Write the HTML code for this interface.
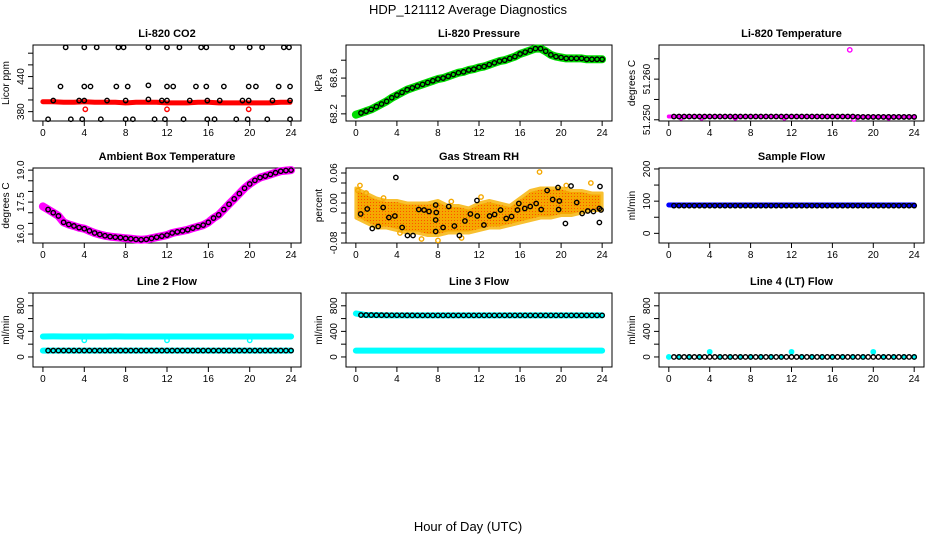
<!DOCTYPE html>
<html><head><meta charset="utf-8"><style>
html,body{margin:0;padding:0;background:#fff;width:936px;height:540px;overflow:hidden}
svg{display:block}
text{font-family:"Liberation Sans",Arial,sans-serif;fill:#000}
</style></head><body>
<svg id="c" width="936" height="540" viewBox="0 0 936 540" xmlns="http://www.w3.org/2000/svg">
<defs>
<pattern id="rhpat" width="3" height="3" patternUnits="userSpaceOnUse"><rect width="3" height="3" fill="#f5a800"/><rect x="1" y="1" width="1" height="1" fill="#ff5000"/></pattern>
</defs>
<text x="468" y="14" text-anchor="middle" font-size="13">HDP_121112  Average Diagnostics</text>
<text x="468" y="531" text-anchor="middle" font-size="13">Hour of Day (UTC)</text>
</svg>
<script>
// ---- data ----
const hours = [0,1,2,3,4,5,6,7,8,9,10,11,12,13,14,15,16,17,18,19,20,21,22,23,24];
const halfHours = [0,0.5,1,1.5,2,2.5,3,3.5,4,4.5,5,5.5,6,6.5,7,7.5,8,8.5,9,9.5,10,10.5,11,11.5,12,12.5,13,13.5,14,14.5,15,15.5,16,16.5,17,17.5,18,18.5,19,19.5,20,20.5,21,21.5,22,22.5,23,23.5,24];
const xTicks = [0,4,8,12,16,20,24];

const co2Band = [397,397,396,396,397,396,396,396,395,396,396,396,395,395,395,396,396,395,395,395,395,395,395,396,396];
const co2X = [2.2,4,5.2,7.3,7.8,10.2,12,13.2,15.3,15.8,18.3,20,21.2,23.3,23.8, 1.7,4,4.6,7.1,8.2,10.2,12,12.6,14.8,15.8,17.5,19.9,20.6,22.8,23.9, 1,3.5,4,6.2,8,10.2,11.5,12,14.2,15.9,17.1,19.3,19.9,22.2,23.9, 0.5,2.7,3.8,5.6,8,8.7,10.8,11.8,13.6,15.9,16.6,18.7,19.8,21.7,23.9];
const co2Y = [490,490,490,490,490,490,490,490,490,490,490,490,490,490,490, 423,423,423,423,423,425,423,423,423,423,423,423,423,423,423, 399,399,399,399,399,401,399,399,399,399,399,399,399,399,399, 367,367,367,367,367,367,367,367,367,367,367,367,367,367,367];
const co2RedX = [4.1,12,19.9];
const co2RedY = [384,384,384];

const pressure = [68.19,68.21,68.23,68.25,68.28,68.31,68.34,68.38,68.41,68.44,68.47,68.49,68.51,68.53,68.55,68.57,68.59,68.60,68.62,68.64,68.66,68.67,68.69,68.70,68.72,68.73,68.75,68.77,68.79,68.80,68.82,68.84,68.87,68.89,68.91,68.93,68.93,68.90,68.86,68.84,68.83,68.82,68.82,68.82,68.82,68.81,68.81,68.81,68.81];

const licorTemp = [51.2508,51.2508,51.2508,51.2508,51.2508,51.2508,51.2508,51.2508,51.2508,51.2508,51.2508,51.2508,51.2508,51.2508,51.2508,51.2508,51.2508,51.2508,51.2508,51.2508,51.2508,51.2508,51.2508,51.2508,51.2508,51.2508,51.2508,51.2508,51.2508,51.2508,51.2508,51.2508,51.2508,51.2508,51.2508,51.2508,51.2508,51.2507,51.2507,51.2507,51.2507,51.2507,51.2507,51.2507,51.2507,51.2507,51.2507,51.2507,51.2507];
const licorTempOutX = [17.7,1.2,3.2,6.5,11.3,18.1,21.5];
const licorTempOutY = [51.2672,51.2505,51.2505,51.2505,51.2505,51.2502,51.2505];

const ambient = [17.3,17.15,17.0,16.85,16.55,16.45,16.38,16.3,16.25,16.15,16.05,15.98,15.92,15.88,15.85,15.83,15.8,15.78,15.75,15.73,15.75,15.8,15.85,15.9,15.95,16.05,16.1,16.15,16.2,16.28,16.35,16.42,16.55,16.75,16.9,17.15,17.4,17.65,17.9,18.15,18.35,18.52,18.65,18.72,18.8,18.88,18.95,18.98,19.0];

const rhUpper = [0.03,0.02,0.01,0.005,0.005,0,0,0,0.005,-0.005,-0.005,-0.01,0,0.005,0,-0.005,0.01,0.025,0.03,0.03,0.03,0.025,0.025,0.02,0.02];
const rhLower = [-0.03,-0.04,-0.05,-0.05,-0.055,-0.06,-0.06,-0.065,-0.065,-0.06,-0.06,-0.06,-0.055,-0.05,-0.05,-0.045,-0.04,-0.035,-0.03,-0.03,-0.025,-0.025,-0.02,-0.015,-0.015];
const rhX = [0.47,1.11,1.6,2.18,2.66,3.22,3.8,3.9,4.51,5.03,5.57,6.13,6.65,7.13,7.78,7.84,7.78,7.78,8.5,9.05,9.6,10.09,10.63,11.16,11.8,11.83,12.48,13.03,13.52,14.1,14.65,15.17,15.75,15.88,16.46,16.99,17.57,18.06,18.64,19.18,19.7,19.76,19.83,20.42,20.97,21.52,22.05,22.6,23.15,23.73,23.79,23.73,23.89];
const rhY = [-0.022,-0.012,-0.051,-0.047,-0.009,-0.029,-0.026,0.051,-0.049,-0.065,-0.065,-0.013,-0.014,-0.017,-0.004,-0.019,-0.034,-0.057,-0.049,-0.007,-0.046,-0.065,-0.036,-0.022,0.005,-0.026,-0.044,-0.026,-0.023,-0.014,-0.031,-0.027,-0.014,-0.001,-0.011,-0.007,-0.001,-0.013,0.025,0.007,0.031,-0.013,0.004,-0.041,0.034,0.001,-0.021,-0.016,-0.017,-0.011,0.033,-0.039,-0.014];
const rhOrangeX = [0.2,0.4,1.0,4.3,8.0,9.3,12.2,17.9,20.5,22.9,2.7,6.4,10.3];
const rhOrangeY = [0.025,0.035,0.02,-0.06,-0.075,0.003,0.012,0.062,0.035,0.04,0.01,-0.072,-0.07];

const sampleFlow = [88,88,88,88,88,88,88,88,88,88,88,88,88,88,88,88,88,88,88,88,88,88,88,88,88,88,88,88,88,88,88,88,88,88,88,88,88,88,88,88,88,88,88,88,88,88,88,88,88];
const sampleFlowBlack = [86,86,86,86,86,86,86,86,86,86,86,86,86,86,86,86,86,86,86,86,86,86,86,86,86,86,86,86,86,86,86,86,86,86,86,86,86,86,86,86,86,86,86,86,86,86,86,86,86];

const line2Upper = [320,322,320,320,320,320,320,322,320,320,320,320,320,320,320,320,320,320,320,320,320,320,320,320,320];
const line2Dips = [260,260,260];
const line2DipX = [4,12,20];
const line2Lower = [100,100,100,100,100,100,100,100,100,100,100,100,100,100,100,100,100,100,100,100,100,100,100,100,100];
const line2Black = [100,100,100,100,100,100,100,100,100,100,100,100,100,100,100,100,100,100,100,100,100,100,100,100,100,100,100,100,100,100,100,100,100,100,100,100,100,100,100,100,100,100,100,100,100,100,100,100,100];

const line3Upper = [680,655,655,650,650,650,650,650,650,650,650,650,650,650,650,650,650,650,650,650,650,650,650,650,650];
const line3Lower = [100,100,100,100,100,100,100,100,100,100,100,100,100,100,100,100,100,100,100,100,100,100,100,100,100];
const line3Black = [655,655,655,655,653,653,653,652,652,652,651,651,650,650,650,650,650,650,650,650,650,650,650,650,650,650,650,650,650,650,650,650,650,650,650,650,650,650,650,650,650,650,650,650,650,650,650,650,650];

const line4Cyan = [0,0,0,0,80,0,0,0,0,0,0,0,80,0,0,0,0,0,0,0,80,0,0,0,0];
const line4Black = [0,0,0,0,0,0,0,0,0,0,0,0,0,0,0,0,0,0,0,0,0,0,0,0,0,0,0,0,0,0,0,0,0,0,0,0,0,0,0,0,0,0,0,0,0,0,0,0,0,0];

// ---- drawing ----
const svg = document.getElementById('c');
const NS = 'http://www.w3.org/2000/svg';
function mk(tag, attrs, parent){
  const e = document.createElementNS(NS, tag);
  for (const k in attrs) e.setAttribute(k, attrs[k]);
  (parent||svg).appendChild(e);
  return e;
}
const cols = [[33,301],[346,612],[659,924]];
const rows = [[45,121],[168,243],[293,367]];
const XMIN = -0.96, XMAX = 24.96;

function panel(name, title, ylabel, col, row, ymin, ymax, yticks, ylabels){
  const [L,R] = cols[col], [T,B] = rows[row];
  const g = mk('g', {});
  
  
  const sx = v => L + (v - XMIN) / (XMAX - XMIN) * (R - L);
  const sy = v => B - (v - ymin) / (ymax - ymin) * (B - T);
  const box = mk('rect', {x:L, y:T, width:R-L, height:B-T, fill:'none', stroke:'#000', 'stroke-width':1}, g);
  
  
  const t = mk('text', {x:(L+R)/2, y:T-8, 'text-anchor':'middle', 'font-size':11, 'font-weight':'bold'}, g);
  t.textContent = title;
  
  
  const yl = mk('text', {transform:`translate(${L-24},${(T+B)/2}) rotate(-90)`, 'text-anchor':'middle', 'font-size':10}, g);
  yl.textContent = ylabel;
  
  
  mk('line', {x1:sx(0), x2:sx(24), y1:B, y2:B, stroke:'#000'}, g);
  xTicks.forEach(v => {
    mk('line', {x1:sx(v), x2:sx(v), y1:B, y2:B+5, stroke:'#000'}, g);
    const tl = mk('text', {x:sx(v), y:B+15, 'text-anchor':'middle', 'font-size':10}, g);
    tl.textContent = v;
    
    
  });
  mk('line', {x1:L, x2:L, y1:sy(yticks[0]), y2:sy(yticks[yticks.length-1]), stroke:'#000'}, g);
  yticks.forEach(v => {
    mk('line', {x1:L-5, x2:L, y1:sy(v), y2:sy(v), stroke:'#000'}, g);
  });
  ylabels.forEach(lab => {
    const tl = mk('text', {transform:`translate(${L-9},${sy(parseFloat(lab))}) rotate(-90)`, 'text-anchor':'middle', 'font-size':10}, g);
    tl.textContent = lab;
    
    
  });
  return {g, sx, sy};
}
function band(p, xs, ys, color, w, nm){
  const pts = xs.map((x,i) => p.sx(x).toFixed(1) + ',' + p.sy(ys[i]).toFixed(1)).join(' ');
  const pl = mk('polyline', {points:pts, fill:'none', stroke:color, 'stroke-width':w, 'stroke-linejoin':'round', 'stroke-linecap':'round'}, p.g);
  
  
}
function circles(p, xs, ys, color, r, nm, fill){
  xs.forEach((x,i) => {
    const c = mk('circle', {cx:p.sx(x), cy:p.sy(ys[i]), r:r, fill:fill||'none', stroke:color, 'stroke-width':1.4}, p.g);
    
    
  });
}
const CR = 2.2;

let p = panel('co2', 'Li-820 CO2', 'Licor ppm', 0, 0, 364, 494, [380,400,420,440,460,480], ['380','440']);
band(p, hours.slice(0,24).concat([23.9]), co2Band, '#ff0000', 5, 'co2-red-band');
circles(p, co2X, co2Y, '#000', CR, 'co2-point');
circles(p, co2RedX, co2RedY, '#ff0000', CR, 'co2-red-point');

p = panel('pressure', 'Li-820 Pressure', 'kPa', 1, 0, 68.12, 68.97, [68.2,68.4,68.6,68.8], ['68.2','68.6']);
band(p, halfHours, pressure, '#00dd00', 8, 'pressure-green-band');
circles(p, halfHours.slice(1), pressure.slice(1), '#000', CR, 'pressure-point');

p = panel('licor-temp', 'Li-820 Temperature', 'degrees C', 2, 0, 51.2497, 51.2684, [51.250,51.255,51.260,51.265], ['51.250','51.260']);
band(p, halfHours, licorTemp, '#ff00ff', 4, 'licor-temp-magenta-band');
circles(p, licorTempOutX, licorTempOutY, '#ff00ff', CR, 'licor-temp-magenta-point');
circles(p, halfHours.slice(1), licorTemp.slice(1), '#000', CR, 'licor-temp-point');

p = panel('ambient-temp', 'Ambient Box Temperature', 'degrees C', 0, 1, 15.58, 19.1, [16.0,16.5,17.0,17.5,18.0,18.5,19.0], ['16.0','17.5','19.0']);
band(p, halfHours, ambient, '#ff00ff', 8, 'ambient-magenta-band');
circles(p, halfHours.slice(1), ambient.slice(1), '#000', CR, 'ambient-point');

p = panel('gas-rh', 'Gas Stream RH', 'percent', 1, 1, -0.08, 0.07, [-0.08,-0.06,-0.04,-0.02,0,0.02,0.04,0.06], ['-0.08','0.00','0.06']);
{
  const up = hours.map((x,i) => p.sx(x).toFixed(1)+','+p.sy(rhUpper[i]).toFixed(1));
  const lo = hours.map((x,i) => p.sx(x).toFixed(1)+','+p.sy(rhLower[i]).toFixed(1)).reverse();
  const poly = mk('polygon', {points: up.concat(lo).join(' '), fill:'url(#rhpat)', stroke:'#f8c030', 'stroke-width':3, 'stroke-linejoin':'round'}, p.g);
  
  
}
circles(p, rhOrangeX, rhOrangeY, '#f5a800', CR, 'gas-rh-orange-point');
circles(p, rhX, rhY, '#000', CR, 'gas-rh-point');

p = panel('sample-flow', 'Sample Flow', 'ml/min', 2, 1, -30, 203, [0,50,100,150,200], ['0','100','200']);
band(p, halfHours, sampleFlow, '#0000ff', 5, 'sample-flow-blue-band');
circles(p, halfHours.slice(1), sampleFlowBlack.slice(1), '#000', CR, 'sample-flow-point');

p = panel('line2-flow', 'Line 2 Flow', 'ml/min', 0, 2, -157, 1000, [0,200,400,600,800,1000], ['0','400','800']);
band(p, hours, line2Upper, '#00ffff', 6, 'line2-cyan-upper-band');
band(p, hours, line2Lower, '#00ffff', 6, 'line2-cyan-lower-band');
circles(p, line2DipX, line2Dips, '#00ffff', CR, 'line2-cyan-dip');
circles(p, halfHours.slice(1), line2Black.slice(1), '#000', CR, 'line2-point');

p = panel('line3-flow', 'Line 3 Flow', 'ml/min', 1, 2, -157, 1000, [0,200,400,600,800,1000], ['0','400','800']);
band(p, hours, line3Upper, '#00ffff', 6, 'line3-cyan-upper-band');
band(p, hours, line3Lower, '#00ffff', 6, 'line3-cyan-lower-band');
circles(p, halfHours.slice(1), line3Black.slice(1), '#000', CR, 'line3-point');

p = panel('line4-flow', 'Line 4 (LT) Flow', 'ml/min', 2, 2, -157, 1000, [0,200,400,600,800,1000], ['0','400','800']);
circles(p, hours, line4Cyan, '#00ffff', CR, 'line4-cyan-point', '#00ffff');
circles(p, halfHours.slice(1), line4Black.slice(1), '#000', CR, 'line4-point');
</script>
</body></html>
